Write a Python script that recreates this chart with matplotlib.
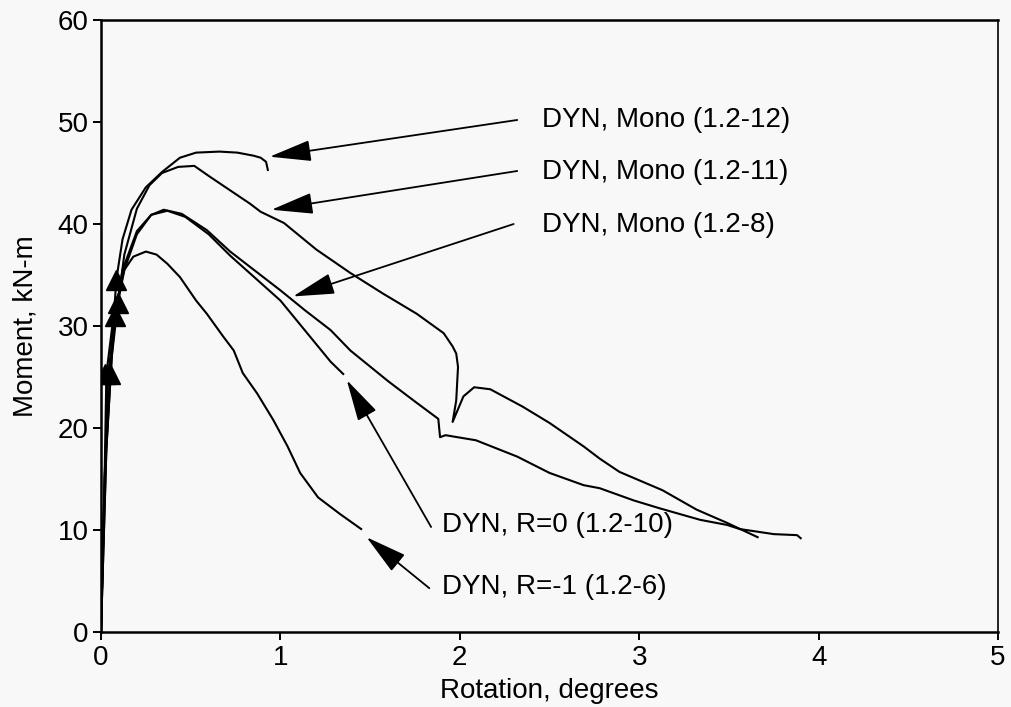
import matplotlib
matplotlib.use("Agg")
import matplotlib.pyplot as plt

plt.rcParams['font.family'] = ['Liberation Sans', 'DejaVu Sans']

# --- data ---
# DYN, Mono (1.2-12)
x_12 = [0, 0.02, 0.05, 0.085, 0.12, 0.17, 0.25, 0.34, 0.44, 0.53, 0.66, 0.76, 0.85, 0.89, 0.92, 0.93]
y_12 = [0, 15, 25, 34.5, 38.5, 41.4, 43.6, 45.1, 46.5, 47.0, 47.1, 47.0, 46.7, 46.5, 46.1, 45.3]

# DYN, Mono (1.2-11)
x_11 = [0, 0.03, 0.06, 0.095, 0.13, 0.2, 0.27, 0.34, 0.43, 0.52, 0.61, 0.72, 0.83, 0.89, 1.02,
        1.2, 1.39, 1.57, 1.76, 1.91, 1.96, 1.98, 1.99, 1.98, 1.96, 2.02, 2.08, 2.17, 2.35, 2.5,
        2.69, 2.78, 2.89, 3.13, 3.32, 3.49, 3.66]
y_11 = [0, 18, 27, 32.3, 37, 41.5, 43.8, 45.0, 45.6, 45.7, 44.6, 43.3, 42.0, 41.2, 40.1,
        37.5, 35.2, 33.2, 31.2, 29.3, 28.0, 27.3, 26.0, 22.7, 20.6, 23.1, 24.0, 23.8, 22.1, 20.5,
        18.2, 17.0, 15.7, 13.9, 12.0, 10.7, 9.3]

# DYN, Mono (1.2-8)
x_8 = [0, 0.03, 0.06, 0.08, 0.12, 0.2, 0.28, 0.35, 0.45, 0.59, 0.72, 0.86, 1.0, 1.14, 1.28,
       1.39, 1.6, 1.75, 1.88, 1.89, 1.92, 2.09, 2.32, 2.5, 2.69, 2.78, 2.97, 3.12, 3.34, 3.49,
       3.56, 3.75, 3.88, 3.9]
y_8 = [0, 18, 27, 31, 35.5, 39.3, 40.9, 41.4, 41.0, 39.4, 37.3, 35.4, 33.5, 31.5, 29.6,
       27.6, 24.6, 22.6, 20.9, 19.1, 19.3, 18.8, 17.2, 15.6, 14.4, 14.1, 12.9, 12.1, 11.0, 10.5,
       10.1, 9.6, 9.5, 9.2]

# DYN, R=0 (1.2-10)
x_10 = [0, 0.02, 0.04, 0.08, 0.13, 0.2, 0.28, 0.37, 0.47, 0.6, 0.72, 0.86, 1.0, 1.14, 1.28, 1.35]
y_10 = [0, 15, 25.3, 31, 35.5, 39, 40.9, 41.3, 40.7, 39.0, 36.9, 34.7, 32.5, 29.5, 26.5, 25.3]

# DYN, R=-1 (1.2-6)
x_6 = [0, 0.02, 0.03, 0.07, 0.13, 0.18, 0.25, 0.31, 0.37, 0.44, 0.53, 0.59, 0.68, 0.74, 0.79,
       0.87, 0.96, 1.04, 1.11, 1.21, 1.33, 1.45]
y_6 = [0, 15, 25.3, 31, 35.5, 36.8, 37.3, 37.0, 36.1, 34.8, 32.5, 31.2, 29.0, 27.6, 25.4,
       23.4, 20.8, 18.2, 15.6, 13.2, 11.6, 10.1]

# triangle markers on the loading branches
tri_x = [0.085, 0.095, 0.08, 0.05, 0.02]
tri_y = [34.5, 32.3, 31.0, 25.3, 25.3]

labels = ["DYN, Mono (1.2-12)", "DYN, Mono (1.2-11)", "DYN, Mono (1.2-8)",
          "DYN, R=0 (1.2-10)", "DYN, R=-1 (1.2-6)"]
label_xy = [(2.46, 50.2), (2.46, 45.1), (2.46, 39.9), (1.90, 10.5), (1.90, 4.4)]
arrow_tail = [(2.32, 50.2), (2.32, 45.2), (2.30, 40.0), (1.84, 10.3), (1.83, 4.3)]
arrow_tip = [(0.94, 46.6), (0.95, 41.4), (1.07, 32.9), (1.37, 24.7), (1.48, 9.3)]

xticks = [0, 1, 2, 3, 4, 5]
yticks = [0, 10, 20, 30, 40, 50, 60]

bg = '#f8f8f8'
fig = plt.figure(figsize=(10.12, 7.07), dpi=100, facecolor=bg)
ax = fig.add_axes([0.0998, 0.106, 0.8864, 0.8657], facecolor=bg)

for xs, ys in [(x_12, y_12), (x_11, y_11), (x_8, y_8), (x_10, y_10), (x_6, y_6)]:
    ax.plot(xs, ys, color='black', lw=1.5, solid_joinstyle='round')

ax.plot(tri_x, tri_y, linestyle='none', marker='^', markersize=14, color='black')

for lab, (lx, ly), (tx, ty), (hx, hy) in zip(labels, label_xy, arrow_tail, arrow_tip):
    ax.text(lx, ly, lab, fontsize=20, va='center', ha='left', color='black')
    ax.annotate('', xy=(hx, hy), xytext=(tx, ty),
                arrowprops=dict(arrowstyle='-|>,head_length=1.3,head_width=0.33',
                                mutation_scale=20, color='black', lw=1.3,
                                shrinkA=0, shrinkB=0))

ax.set_xlim(0, 5)
ax.set_ylim(0, 60)
ax.set_xticks(xticks)
ax.set_yticks(yticks)
ax.tick_params(axis='both', labelsize=20, length=6, width=1.4, direction='out', pad=3)
for s in ax.spines.values():
    s.set_linewidth(1.8)
ax.spines['right'].set_linewidth(1.2)

ax.set_xlabel('Rotation, degrees', fontsize=20, labelpad=5)
ax.set_ylabel('Moment, kN-m', fontsize=20, labelpad=14)

fig.savefig('out.png', dpi=100, facecolor=bg)
